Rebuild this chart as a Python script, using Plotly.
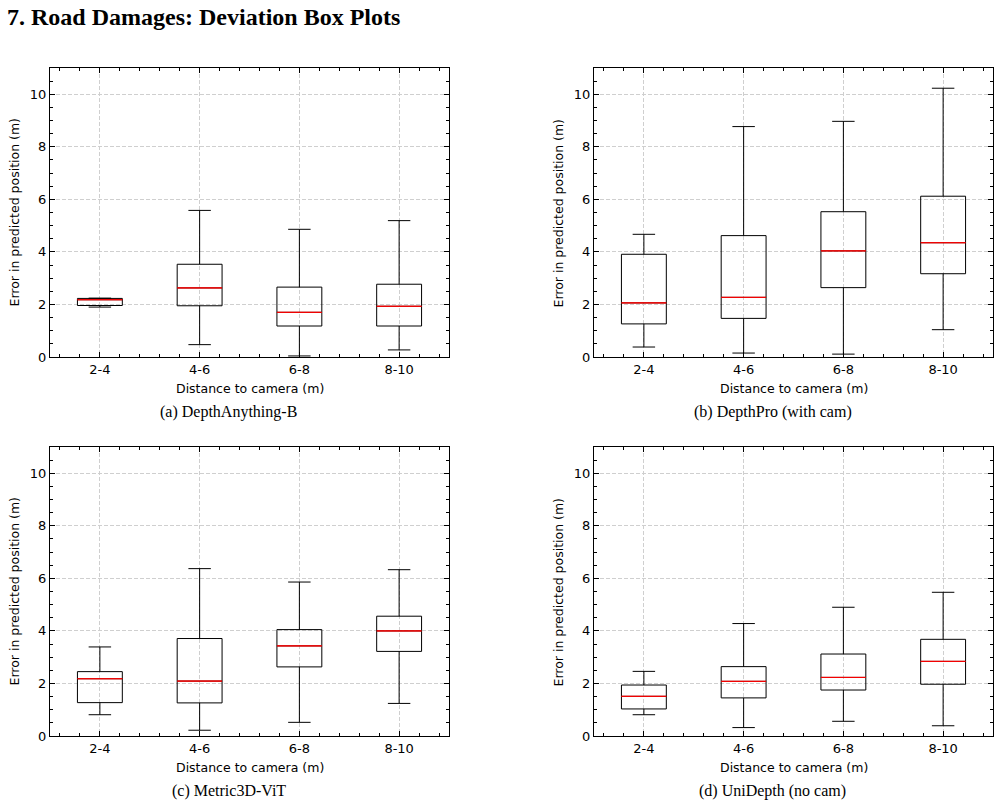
import plotly.graph_objects as go
from plotly.subplots import make_subplots

# ---------------- data ----------------
categories = ["2-4", "4-6", "6-8", "8-10"]
positions = [1, 2, 3, 4]
panel_captions = ["(a) DepthAnything-B", "(b) DepthPro (with cam)",
                  "(c) Metric3D-ViT", "(d) UniDepth (no cam)"]

# (a) DepthAnything-B
a_lower = [1.90, 0.47, 0.04, 0.27]
a_q1 = [1.96, 1.95, 1.18, 1.18]
a_median = [2.18, 2.63, 1.70, 1.93]
a_q3 = [2.23, 3.53, 2.66, 2.77]
a_upper = [2.24, 5.58, 4.86, 5.19]

# (b) DepthPro (with cam)
b_lower = [0.38, 0.15, 0.11, 1.04]
b_q1 = [1.26, 1.47, 2.64, 3.17]
b_median = [2.06, 2.27, 4.04, 4.35]
b_q3 = [3.91, 4.62, 5.53, 6.12]
b_upper = [4.67, 8.77, 8.97, 10.23]

# (c) Metric3D-ViT
c_lower = [0.81, 0.22, 0.52, 1.24]
c_q1 = [1.27, 1.26, 2.63, 3.22]
c_median = [2.18, 2.09, 3.43, 4.00]
c_q3 = [2.45, 3.71, 4.05, 4.56]
c_upper = [3.39, 6.37, 5.86, 6.33]

# (d) UniDepth (no cam)
d_lower = [0.81, 0.32, 0.56, 0.39]
d_q1 = [1.03, 1.45, 1.75, 1.97]
d_median = [1.51, 2.08, 2.23, 2.84]
d_q3 = [1.94, 2.64, 3.12, 3.68]
d_upper = [2.46, 4.28, 4.90, 5.47]

panels = [
    (a_lower, a_q1, a_median, a_q3, a_upper),
    (b_lower, b_q1, b_median, b_q3, b_upper),
    (c_lower, c_q1, c_median, c_q3, c_upper),
    (d_lower, d_q1, d_median, d_q3, d_upper),
]

title_text = "7. Road Damages: Deviation Box Plots"
x_title = "Distance to camera (m)"
y_title = "Error in predicted position (m)"

# ---------------- layout geometry ----------------
W, H = 1000, 806
x_domains = [[0.050, 0.449], [0.594, 0.993]]
y_domains = [[1 - 357 / H, 1 - 68 / H], [1 - 736 / H, 1 - 447 / H]]

SANS = "DejaVu Sans"
SERIF = "Liberation Serif"
BOX_W = 0.45

fig = make_subplots(rows=2, cols=2)

for k, (lo, q1, med, q3, up) in enumerate(panels):
    r, c = k // 2 + 1, k % 2 + 1
    fig.add_trace(go.Box(
        x=positions, lowerfence=lo, q1=q1, median=med, q3=q3, upperfence=up,
        width=BOX_W, whiskerwidth=0.5, boxpoints=False,
        line=dict(color="black", width=1), fillcolor="rgba(0,0,0,0)",
        showlegend=False, hoverinfo="skip"), row=r, col=c)
    # red median line (degenerate box at the median)
    fig.add_trace(go.Box(
        x=positions, lowerfence=med, q1=med, median=med, q3=med, upperfence=med,
        width=BOX_W, whiskerwidth=0, boxpoints=False,
        line=dict(color="#ff0000", width=0.7), fillcolor="rgba(0,0,0,0)",
        showlegend=False, hoverinfo="skip"), row=r, col=c)

axis_common = dict(
    ticks="inside", tickcolor="black", tickwidth=1, ticklen=5,
    showline=True, linecolor="black", linewidth=1, mirror="allticks",
    showgrid=True, gridcolor="#cfcfcf", gridwidth=1, griddash="4px,2px",
    zeroline=False, automargin=False,
    tickfont=dict(family=SANS, size=13, color="black"),
)

for k in range(4):
    ri, ci = k // 2, k % 2
    xa = "xaxis" if k == 0 else f"xaxis{k+1}"
    ya = "yaxis" if k == 0 else f"yaxis{k+1}"
    fig.layout[xa].update(
        domain=x_domains[ci], range=[0.5, 4.5], tickmode="array",
        tickvals=positions, ticktext=categories,
        minor=dict(tickmode="linear", tick0=0, dtick=0.2, ticks="inside",
                   ticklen=3, tickcolor="black", tickwidth=1, showgrid=False),
        **axis_common)
    fig.layout[ya].update(
        domain=y_domains[ri], range=[0, 11], tickmode="linear", tick0=0, dtick=2,
        minor=dict(tickmode="linear", tick0=0, dtick=0.5, ticks="inside",
                   ticklen=3, tickcolor="black", tickwidth=1, showgrid=False),
        **axis_common)

annotations = []
# main title
annotations.append(dict(text="<b>" + title_text + "</b>", x=5 / W, y=1 - 17 / H,
                        xref="paper", yref="paper", xanchor="left", yanchor="middle",
                        showarrow=False, font=dict(family=SERIF, size=24, color="black")))
for k in range(4):
    ri, ci = k // 2, k % 2
    x0, x1 = x_domains[ci]
    y0, y1 = y_domains[ri]
    xc = (x0 + x1) / 2
    yc = (y0 + y1) / 2
    # x axis title
    annotations.append(dict(text=x_title, x=xc, y=y0 - 31 / H, xref="paper", yref="paper",
                            xanchor="center", yanchor="middle", showarrow=False,
                            font=dict(family=SANS, size=12.5, color="black")))
    # y axis title
    annotations.append(dict(text=y_title, x=x0 - 36 / W, y=yc, xref="paper", yref="paper",
                            xanchor="center", yanchor="middle", textangle=-90, showarrow=False,
                            font=dict(family=SANS, size=12.5, color="black")))
    # caption
    annotations.append(dict(text=panel_captions[k], x=xc - 21 / W, y=y0 - 55 / H,
                            xref="paper", yref="paper", xanchor="center", yanchor="middle",
                            showarrow=False, font=dict(family=SERIF, size=16, color="black")))

fig.update_layout(
    width=W, height=H, margin=dict(l=0, r=0, t=0, b=0, autoexpand=False),
    paper_bgcolor="white", plot_bgcolor="white",
    annotations=annotations, showlegend=False, boxmode="overlay",
)

fig.write_html("out.html")
